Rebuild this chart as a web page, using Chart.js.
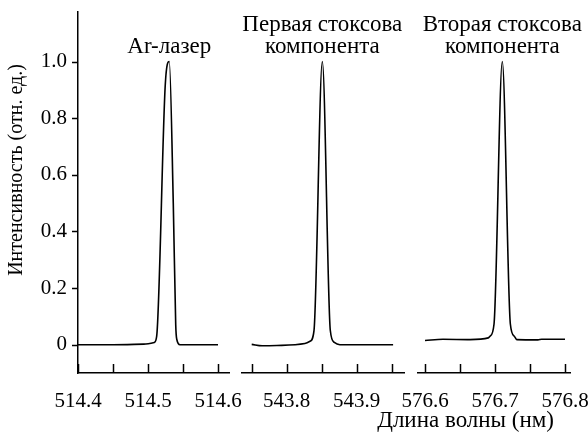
<!DOCTYPE html>
<html>
<head>
<meta charset="utf-8">
<script src="https://cdn.jsdelivr.net/npm/chart.js@4.4.1/dist/chart.umd.min.js"></script>
<style>
  body { margin: 0; background: #fff; overflow: hidden; }
  #wrap { position: relative; width: 588px; height: 439px; }
  canvas { position: absolute; top: 0; }
</style>
</head>
<body>
<div id="wrap">
  <canvas id="c1" width="250" height="439" style="left:0px"></canvas>
  <canvas id="c2" width="180" height="439" style="left:230px"></canvas>
  <canvas id="c3" width="228" height="439" style="left:360px"></canvas>
</div>
<script>
// spectra
const wl1 = [514.4, 514.45, 514.494, 514.509, 514.5124, 514.5247, 514.5304, 514.5361, 514.5396, 514.541, 514.5457, 514.57, 514.6];
const int1 = [0, 0, 0.002, 0.008, 0.03, 0.92, 1.0, 0.5, 0.07, 0.02, 0, 0, 0];

const wl2 = [543.75, 543.765, 543.786, 543.826, 543.8333, 543.839, 543.8509, 543.8623, 543.868, 543.876, 543.952];
const int2 = [0.001, -0.004, -0.003, 0.004, 0.012, 0.05, 1.0, 0.05, 0.008, 0.0, 0.0];

const wl3 = [576.6, 576.6257, 576.6643, 576.6904, 576.6929, 576.6986, 576.7104, 576.7219, 576.7276, 576.731, 576.7614, 576.7667, 576.8];
const int3 = [0.015, 0.019, 0.018, 0.024, 0.03, 0.073, 1.0, 0.073, 0.03, 0.018, 0.017, 0.019, 0.019];

const xTicks1 = [514.4, 514.45, 514.5, 514.55, 514.6];
const xTicks2 = [543.75, 543.8, 543.85, 543.9, 543.95];
const xTicks3 = [576.6, 576.65, 576.7, 576.75, 576.8];
const yTicks = [0, 0.2, 0.4, 0.6, 0.8, 1.0];

const peakLabels = [['Ar-лазер'], ['Первая стоксова', 'компонента'], ['Вторая стоксова', 'компонента']];
const yTitle = 'Интенсивность (отн. ед.)';
const xTitle = 'Длина волны (нм)';

Chart.defaults.font.family = 'Liberation Serif';
Chart.defaults.color = '#000';

const Y_MIN = -0.1, Y_MAX = 1.175;

// text over each peak + inward x ticks + outward y ticks
function panelPlugin(lines, xs, ys, ticks, showY) {
  const iMax = ys.indexOf(Math.max(...ys));
  return {
    id: 'panel',
    afterDraw(chart) {
      const ctx = chart.ctx;
      const sx = chart.scales.x, sy = chart.scales.y;
      const area = chart.chartArea;
      ctx.save();
      ctx.strokeStyle = '#000';
      ctx.lineWidth = 1.5;
      ctx.beginPath();
      ticks.forEach(v => {
        const px = Math.round(sx.getPixelForValue(v)) + 0.5;
        ctx.moveTo(px, area.bottom);
        ctx.lineTo(px, area.bottom - 9);
      });
      if (showY) {
        yTicks.forEach(v => {
          const py = Math.round(sy.getPixelForValue(v)) + 0.5;
          ctx.moveTo(area.left, py);
          ctx.lineTo(area.left - 6, py);
        });
      }
      ctx.stroke();

      const px = sx.getPixelForValue(xs[iMax]);
      const py = sy.getPixelForValue(1.05);
      ctx.font = '23px "Liberation Serif"';
      ctx.fillStyle = '#000';
      ctx.textAlign = 'center';
      ctx.textBaseline = 'middle';
      lines.forEach((t, i) => {
        ctx.fillText(t, px, py - (lines.length - 1 - i) * 22);
      });
      ctx.restore();
    }
  };
}

const xTitlePlugin = {
  id: 'xTitle',
  afterDraw(chart) {
    const ctx = chart.ctx;
    ctx.save();
    ctx.font = '23px "Liberation Serif"';
    ctx.fillStyle = '#000';
    ctx.textAlign = 'right';
    ctx.textBaseline = 'middle';
    ctx.fillText(xTitle, chart.chartArea.right - 16, 421);
    ctx.restore();
  }
};

const yTitlePlugin = {
  id: 'yTitle',
  afterDraw(chart) {
    const ctx = chart.ctx;
    ctx.save();
    ctx.translate(17, 170);
    ctx.rotate(-Math.PI / 2);
    ctx.font = '20px "Liberation Serif"';
    ctx.fillStyle = '#000';
    ctx.textAlign = 'center';
    ctx.textBaseline = 'middle';
    ctx.fillText(yTitle, 0, 0);
    ctx.restore();
  }
};

function makeChart(id, xs, ys, ticks, xmin, xmax, pad, showY, labels, extra) {
  const xScale = {
    type: 'linear',
    min: xmin,
    max: xmax,
    afterBuildTicks: s => { s.ticks = ticks.map(v => ({ value: v })); },
    afterFit: s => { s.height = 66; s.paddingLeft = 0; s.paddingRight = 0; },
    ticks: {
      padding: 16,
      autoSkip: false,
      maxRotation: 0,
      minRotation: 0,
      font: { size: 21 },
      callback: v => (Math.round(v * 100) % 10 === 0 ? v.toFixed(1) : '')
    },
    grid: { drawOnChartArea: false, drawTicks: false },
    border: { color: '#000', width: 1.5 }
  };
  const yScale = {
    type: 'linear',
    display: showY,
    min: Y_MIN,
    max: Y_MAX,
    afterBuildTicks: s => { s.ticks = yTicks.map(v => ({ value: v })); },
    afterFit: s => { if (showY) s.width = 78; s.paddingTop = 0; s.paddingBottom = 0; },
    ticks: {
      padding: 11,
      font: { size: 21 },
      callback: v => (v === 0 ? '0' : v.toFixed(1))
    },
    grid: { drawOnChartArea: false, drawTicks: false },
    border: { color: '#000', width: 1.5 }
  };
  return new Chart(document.getElementById(id), {
    type: 'line',
    data: {
      datasets: [{
        data: xs.map((x, i) => ({ x: x, y: ys[i] })),
        borderColor: '#000',
        borderWidth: 1.6,
        pointRadius: 0,
        cubicInterpolationMode: 'monotone',
        fill: false
      }]
    },
    options: {
      responsive: false,
      animation: false,
      layout: { padding: pad },
      plugins: { legend: { display: false }, tooltip: { enabled: false } },
      scales: { x: xScale, y: yScale }
    },
    plugins: [panelPlugin(labels, xs, ys, ticks, showY)].concat(extra || [])
  });
}

makeChart('c1', wl1, int1, xTicks1, 514.4, 514.6157, { top: 12, right: 21, bottom: 0, left: 0 }, true, peakLabels[0], [yTitlePlugin]);
makeChart('c2', wl2, int2, xTicks2, 543.7357, 543.968, { top: 12, right: 5.7, bottom: 0, left: 11.7 }, false, peakLabels[1]);
makeChart('c3', wl3, int3, xTicks3, 576.589, 576.8071, { top: 12, right: 18, bottom: 0, left: 57.3 }, false, peakLabels[2], [xTitlePlugin]);
</script>
</body>
</html>
